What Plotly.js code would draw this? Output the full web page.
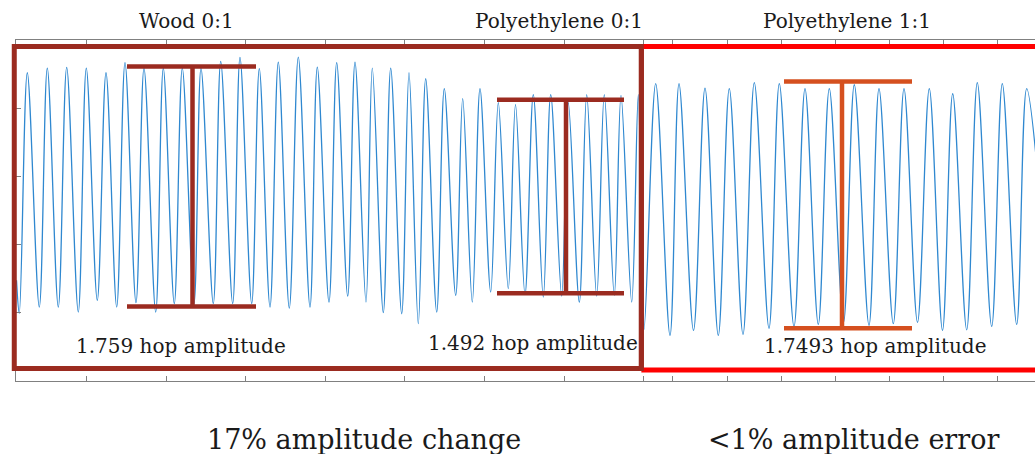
<!DOCTYPE html>
<html>
<head>
<meta charset="utf-8">
<script src="https://cdn.plot.ly/plotly-3.0.1.min.js"></script>
<style>
html,body{margin:0;padding:0;background:#fff;}
#chart{width:1035px;height:454px;}
</style>
</head>
<body>
<div id="chart"></div>
<script>
// Signal: alternating extremes (time units, hop units)
const signalTime = [0.05,0.33,1.13,2.33,3.13,4.23,5.07,6.23,7.03,8.13,9.0,10.07,10.9,12.0,12.8,13.97,14.73,15.83,16.63,17.8,18.5,19.73,20.47,21.67,22.4,23.57,24.33,25.4,26.23,27.33,28.23,29.4,30.13,31.3,32.07,33.17,33.9,35.0,35.63,36.73,37.47,38.57,39.3,40.23,40.97,42.07,42.83,43.97,44.67,45.63,46.4,47.47,48.23,49.23,49.95,50.9,51.73,52.73,53.47,54.57,55.23,56.33,57.07,58.07,58.83,59.83,60.5,61.57,62.23,62.8,63.97,65.4,66.3,67.75,68.9,70.23,71.33,72.7,73.83,75.3,76.33,77.8,78.9,80.23,81.33,82.75,83.83,85.3,86.3,87.73,88.8,90.15,91.33,92.65,93.67,95.07,96.13,97.57,98.63,100.07,101.07,102.4];
const signalValue = [-0.762,-1.004,0.760,-0.958,0.794,-0.958,0.799,-0.995,0.794,-0.909,0.760,-0.958,0.834,-0.926,0.794,-0.995,0.794,-0.933,0.794,-0.933,0.794,-0.933,0.843,-0.933,0.872,-0.933,0.790,-0.958,0.838,-0.966,0.875,-0.958,0.801,-0.922,0.834,-0.878,0.838,-0.922,0.794,-0.999,0.794,-1.007,0.760,-1.080,0.716,-0.995,0.643,-0.872,0.570,-0.922,0.643,-0.848,0.540,-0.823,0.526,-0.867,0.599,-0.885,0.599,-0.878,0.540,-0.922,0.599,-0.878,0.599,-0.872,0.594,-0.922,0.599,-1.122,0.680,-1.166,0.680,-1.129,0.647,-1.166,0.643,-1.158,0.687,-1.114,0.680,-1.100,0.643,-1.085,0.643,-1.070,0.672,-1.092,0.643,-1.080,0.643,-1.070,0.643,-1.129,0.606,-1.125,0.687,-1.100,0.680,-1.085,0.643,-0.176];

// Axis tick positions (no labels)
const xTicks = [7.0,15.0,22.9,30.9,38.8,46.8,54.8,62.7,65.6,71.1,76.5,81.9,87.3,92.7,98.1];
const yTicks = [-1.0,-0.5,0.0,0.5];

// Panel titles and amplitude labels
const panelTitles = ["Wood 0:1","Polyethylene 0:1","Polyethylene 1:1"];
const amplitudes = ["1.759","1.492","1.7493"];
const summaryTexts = ["17% amplitude change","<1% amplitude error"];

// I-bar extents (time start, time end, centre, top, bottom)
const barStart = [11.1, 48.1, 76.8];
const barEnd = [24.0, 60.8, 89.6];
const barCentre = [17.65, 55.0, 82.6];
const barTop = [0.806, 0.562, 0.696];
const barBottom = [-0.953, -0.856, -1.114];
const barColors = ["#9b2b20","#9b2b20","#d5501f"];

const serif = "DejaVu Serif, serif";

const shapes = [];
// outlined boxes (paper coords)
shapes.push({type:"rect", xref:"paper", yref:"paper", x0:-0.0017, x1:0.6137, y0:0.0367, y1:0.9810,
  line:{color:"#9b2b20", width:5}, layer:"above"});
shapes.push({type:"line", xref:"paper", yref:"paper", x0:0.6137, x1:1.01, y0:0.9810, y1:0.9810,
  line:{color:"#ff0000", width:5}, layer:"above"});
shapes.push({type:"line", xref:"paper", yref:"paper", x0:0.6137, x1:1.01, y0:0.0323, y1:0.0323,
  line:{color:"#ff0000", width:5}, layer:"above"});
// redraw brown right edge on top of the red lines
shapes.push({type:"line", xref:"paper", yref:"paper", x0:0.6137, x1:0.6137, y0:0.0290, y1:0.9880,
  line:{color:"#9b2b20", width:5}, layer:"above"});

for (let i = 0; i < barStart.length; i++) {
  const ln = {color: barColors[i], width: 4.5};
  shapes.push({type:"line", xref:"x", yref:"y", x0:barStart[i], x1:barEnd[i], y0:barTop[i], y1:barTop[i], line:ln, layer:"above"});
  shapes.push({type:"line", xref:"x", yref:"y", x0:barStart[i], x1:barEnd[i], y0:barBottom[i], y1:barBottom[i], line:ln, layer:"above"});
  shapes.push({type:"line", xref:"x", yref:"y", x0:barCentre[i], x1:barCentre[i], y0:barTop[i], y1:barBottom[i], line:ln, layer:"above"});
}

const titleX = [0.1678, 0.5329, 0.8155];
const ampX = [0.1624, 0.5074, 0.8430];
const ampY = [0.1026, 0.1114, 0.1026];
const summaryX = [0.342, 0.8214];

const annotations = [];
panelTitles.forEach((t, i) => annotations.push({
  text: t, xref:"paper", yref:"paper", x: titleX[i], y: 1.055, showarrow:false,
  xanchor:"center", yanchor:"middle", font:{family:serif, size:20, color:"#1a1a1a"}
}));
amplitudes.forEach((a, i) => annotations.push({
  text: a + " hop amplitude", xref:"paper", yref:"paper", x: ampX[i], y: ampY[i], showarrow:false,
  xanchor:"center", yanchor:"middle", font:{family:serif, size:20, color:"#1a1a1a"}
}));
summaryTexts.forEach((t, i) => annotations.push({
  text: t.replace("<","&lt;"), xref:"paper", yref:"paper", x: summaryX[i], y: -0.173, showarrow:false,
  xanchor:"center", yanchor:"middle", font:{family:serif, size:27, color:"#1a1a1a"}
}));

const trace = {
  x: signalTime, y: signalValue, type:"scatter", mode:"lines",
  line:{color:"#2f88d0", width:1.3, shape:"spline", smoothing:1},
  hoverinfo:"skip", showlegend:false
};

const layout = {
  width:1035, height:454,
  margin:{l:16, r:0, t:40, b:73, pad:0},
  paper_bgcolor:"#ffffff", plot_bgcolor:"#ffffff",
  showlegend:false,
  xaxis:{range:[0,101.9], showgrid:false, zeroline:false, showline:true, linecolor:"#808080", linewidth:1,
    mirror:"ticks", ticks:"inside", ticklen:5, tickcolor:"#808080", tickvals:xTicks, showticklabels:false, fixedrange:true},
  yaxis:{range:[-1.5,1.0], showgrid:false, zeroline:false, showline:true, linecolor:"#808080", linewidth:1,
    ticks:"inside", ticklen:5, tickcolor:"#808080", tickvals:yTicks, showticklabels:false, fixedrange:true},
  shapes: shapes,
  annotations: annotations
};

Plotly.newPlot("chart", [trace], layout, {displayModeBar:false, staticPlot:true});
</script>
</body>
</html>
